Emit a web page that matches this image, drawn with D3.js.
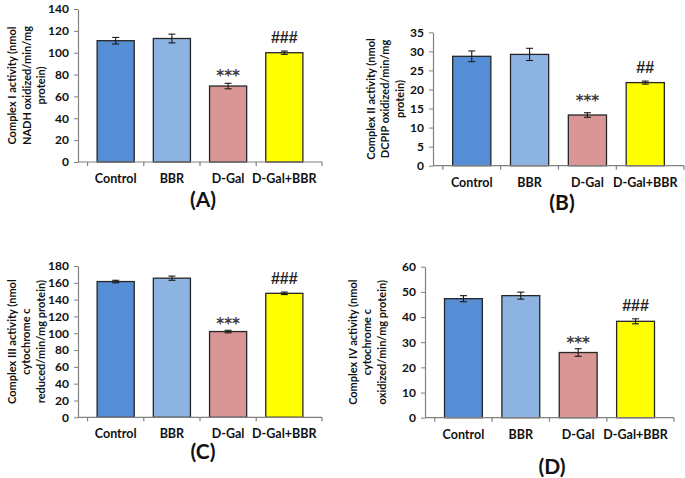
<!DOCTYPE html>
<html><head><meta charset="utf-8">
<script src="https://cdn.jsdelivr.net/npm/d3@7"></script>
<style>body{margin:0;background:#fff}svg{display:block}</style>
</head><body>
<svg id="c" width="685" height="478"></svg>
<script>
const categories = ["Control", "BBR", "D-Gal", "D-Gal+BBR"];
const colors = ["#558ed5", "#8db3e2", "#d99694", "#ffff00"];

const valuesA = [111, 113, 69.5, 100];
const errorsA = [3, 4, 2.5, 1.5];
const sigA = ["", "", "***", "###"];
const ticksA = [0, 20, 40, 60, 80, 100, 120, 140];

const valuesB = [28.7, 29.2, 13.3, 21.8];
const errorsB = [1.4, 1.6, 0.6, 0.4];
const sigB = ["", "", "***", "##"];
const ticksB = [0, 5, 10, 15, 20, 25, 30, 35];

const valuesC = [161.5, 165.5, 102, 147.5];
const errorsC = [1.5, 2.5, 1.5, 1.5];
const sigC = ["", "", "***", "###"];
const ticksC = [0, 20, 40, 60, 80, 100, 120, 140, 160, 180];

const valuesD = [47.3, 48.5, 25.9, 38.3];
const errorsD = [1.2, 1.4, 1.5, 1.0];
const sigD = ["", "", "***", "###"];
const ticksD = [0, 10, 20, 30, 40, 50, 60];

const titleA = ["Complex I activity (nmol", "NADH oxidized/min/mg", "protein)"];
const titleB = ["Complex II activity (nmol", "DCPIP oxidized/min/mg", "protein)"];
const titleC = ["Complex III activity (nmol", "cytochrome c", "reduced/min/mg protein)"];
const titleD = ["Complex IV activity (nmol", "cytochrome c", "oxidized/min/mg protein)"];

const panelLabels = ["(A)", "(B)", "(C)", "(D)"];

const svg = d3.select("#c");
const FONT = "Lato, 'Open Sans', sans-serif";

function panel(opt) {
  const g = svg.append("g");
  const x = d3.scaleBand().domain(categories).range([opt.x0, opt.x1]).padding(0.34);
  const y = d3.scaleLinear().domain([0, d3.max(opt.ticks)]).range([opt.yb, opt.yt]);

  // bars
  g.selectAll("rect.bar").data(opt.values).join("rect")
    .attr("x", (d, i) => x(categories[i]))
    .attr("y", d => y(d))
    .attr("width", x.bandwidth())
    .attr("height", d => y(0) - y(d))
    .attr("fill", (d, i) => colors[i])
    .attr("stroke", "#262626").attr("stroke-width", 1.3);

  // error bars
  const cap = 3.5;
  opt.values.forEach((v, i) => {
    const cx = x(categories[i]) + x.bandwidth() / 2;
    const e = opt.errors[i];
    const eg = g.append("g").attr("stroke", "#1a1a1a").attr("stroke-width", 1.1);
    eg.append("line").attr("x1", cx).attr("x2", cx).attr("y1", y(v - e)).attr("y2", y(v + e));
    eg.append("line").attr("x1", cx - cap).attr("x2", cx + cap).attr("y1", y(v - e)).attr("y2", y(v - e));
    eg.append("line").attr("x1", cx - cap).attr("x2", cx + cap).attr("y1", y(v + e)).attr("y2", y(v + e));
    const s = opt.sig[i];
    if (s) {
      const star = s.startsWith("*");
      g.append("text")
        .attr("x", cx)
        .attr("y", y(v + e) - (star ? 2.5 + opt.so : 8))
        .attr("text-anchor", "middle")
        .attr("font-family", star ? "'DejaVu Sans', sans-serif" : "'Liberation Sans', Arial, sans-serif")
        .attr("font-weight", "bold")
        .attr("font-size", star ? 15 : 16)
        .attr("fill", star ? "#3a3a3a" : "#222")
        .text(s);
    }
  });

  // y axis
  const ya = g.append("g").attr("transform", `translate(${opt.x0},0)`)
    .call(d3.axisLeft(y).tickValues(opt.ticks).tickSize(4).tickSizeOuter(0).tickPadding(5));
  ya.select(".domain").attr("stroke", "#808080").attr("stroke-width", 1.2);
  ya.selectAll(".tick line").attr("stroke", "#808080");
  ya.selectAll(".tick text").attr("font-family", FONT).attr("font-weight", "bold")
    .attr("font-size", 12).attr("fill", "#111");

  // x axis
  const xa = g.append("g").attr("transform", `translate(0,${opt.yb})`);
  xa.append("line").attr("x1", opt.x0).attr("x2", opt.x1).attr("stroke", "#808080").attr("stroke-width", 1.2);
  const bounds = categories.map(c => x(c) - x.step() * x.paddingInner() / 2).concat([opt.x1]);
  xa.selectAll("line.t").data(bounds).join("line").attr("class", "t")
    .attr("x1", d => d).attr("x2", d => d).attr("y1", 0).attr("y2", 4)
    .attr("stroke", "#808080").attr("stroke-width", 1.2);
  xa.selectAll("text").data(categories).join("text")
    .attr("x", d => x(d) + x.bandwidth() / 2)
    .attr("y", 21)
    .attr("text-anchor", "middle")
    .attr("font-family", FONT).attr("font-weight", "bold").attr("font-size", 12.5).attr("fill", "#111")
    .text(d => d);

  // y title
  const cy = (opt.yt + opt.yb) / 2;
  opt.title.forEach((t, k) => {
    g.append("text")
      .attr("transform", `translate(${opt.tx + k * 14.5},${cy}) rotate(-90)`)
      .attr("text-anchor", "middle")
      .attr("dominant-baseline", "central")
      .attr("font-family", FONT).attr("font-weight", "bold").attr("font-size", 11).attr("fill", "#111")
      .text(t);
  });

  // panel label
  g.append("text").attr("x", opt.lx).attr("y", opt.ly)
    .attr("text-anchor", "middle")
    .attr("font-family", FONT).attr("font-weight", "bold").attr("font-size", 21).attr("fill", "#111")
    .text(opt.label);
}

panel({x0: 78, x1: 322, yt: 9, yb: 162, ticks: ticksA, values: valuesA, errors: errorsA, sig: sigA, so: 0, title: titleA, tx: 11.5, lx: 203, ly: 207, label: panelLabels[0]});
panel({x0: 433, x1: 684, yt: 32.3, yb: 165.7, ticks: ticksB, values: valuesB, errors: errorsB, sig: sigB, so: 4, title: titleB, tx: 370, lx: 562, ly: 210, label: panelLabels[1]});
panel({x0: 78, x1: 322, yt: 266, yb: 417.3, ticks: ticksC, values: valuesC, errors: errorsC, sig: sigC, so: -1, title: titleC, tx: 11, lx: 203, ly: 459, label: panelLabels[2]});
panel({x0: 425, x1: 674, yt: 266.7, yb: 417.7, ticks: ticksD, values: valuesD, errors: errorsD, sig: sigD, so: -2, title: titleD, tx: 352, lx: 552, ly: 474, label: panelLabels[3]});
</script>
</body></html>
